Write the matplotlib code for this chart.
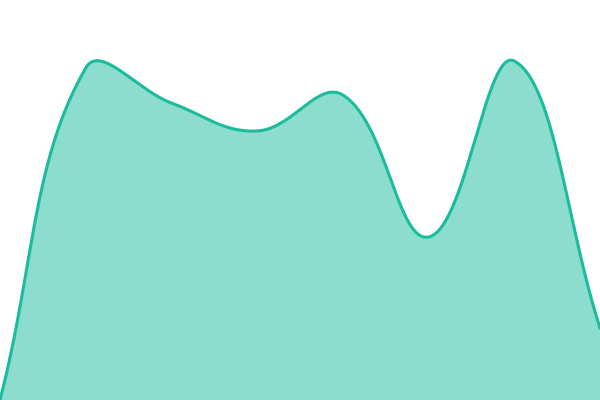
import numpy as np
import matplotlib
matplotlib.use("Agg")
import matplotlib.pyplot as plt

# data (index positions along x, values on a 0-400 scale)
points = [0, 1, 2, 3, 4, 5, 6, 7]
values = [0, 332, 297, 269, 305, 163, 339, 72]

W, H = 600, 400
TENSION = 0.4


def spline(xs, ys, t=TENSION, n=60):
    # Chart.js-style spline: control points scaled by neighbour distances (pixel space)
    px = np.asarray(xs, float) * W / (len(xs) - 1)
    py = H - np.asarray(ys, float)
    pts = np.column_stack([px, py])
    k = len(pts)
    prev_cp, next_cp = [], []
    for i in range(k):
        cur = pts[i]
        prv = pts[i - 1] if i > 0 else cur
        nxt = pts[i + 1] if i < k - 1 else cur
        d01 = np.hypot(*(cur - prv))
        d12 = np.hypot(*(nxt - cur))
        tot = d01 + d12
        s01 = d01 / tot if tot else 0
        s12 = d12 / tot if tot else 0
        cp_p = cur - t * s01 * (nxt - prv)
        cp_n = cur + t * s12 * (nxt - prv)
        cp_p[1] = min(max(cp_p[1], 0), H)
        cp_n[1] = min(max(cp_n[1], 0), H)
        prev_cp.append(cp_p)
        next_cp.append(cp_n)
    s = np.linspace(0, 1, n)
    ox, oy = [], []
    for i in range(k - 1):
        p1, c1, c2, p2 = pts[i], next_cp[i], prev_cp[i + 1], pts[i + 1]
        for arr, j in ((ox, 0), (oy, 1)):
            arr.extend((1 - s) ** 3 * p1[j] + 3 * (1 - s) ** 2 * s * c1[j]
                       + 3 * (1 - s) * s ** 2 * c2[j] + s ** 3 * p2[j])
    return np.array(ox) * (len(xs) - 1) / W, H - np.array(oy)


cx, cy = spline(points, values)

fig = plt.figure(figsize=(6, 4), dpi=100)
ax = fig.add_axes([0, 0, 1, 1])
ax.fill_between(cx, 0, cy, color="#1abc9c", alpha=0.5, linewidth=0)
ax.plot(cx, cy, color="#1abc9c", linewidth=2.2)
ax.set_xlim(points[0], points[-1])
ax.set_ylim(0, 400)
ax.axis("off")

fig.savefig("out.png", dpi=100)
